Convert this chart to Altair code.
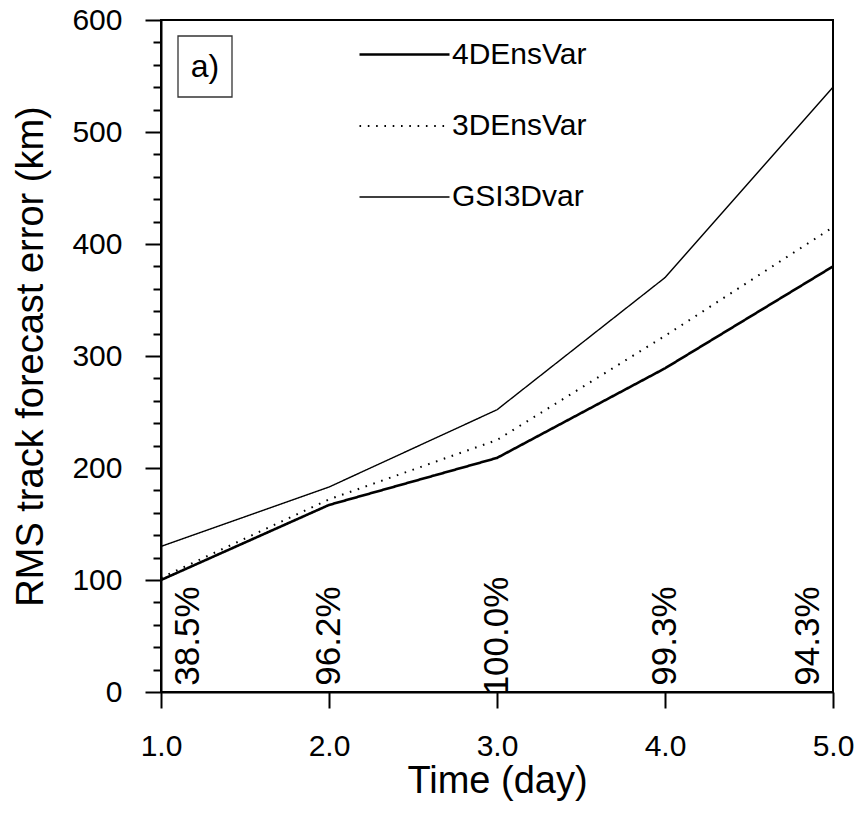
import altair as alt
import pandas as pd

# ---- data ----
days = [1, 2, 3, 4, 5]
series = ["4DEnsVar", "3DEnsVar", "GSI3Dvar"]
err_4denvar = [100, 167, 209, 289, 380]
err_3denvar = [102, 172, 225, 318, 415]
err_gsi3dvar = [130, 183, 252, 370, 540]
pct_labels = ["38.5%", "96.2%", "100.0%", "99.3%", "94.3%"]
pct_level = 50
x_ticks = [1, 2, 3, 4, 5]
y_ticks = list(range(0, 601, 20))
panel_label = ["a)"]

FONT = "Liberation Sans"
X_TITLE = "Time (day)"
Y_TITLE = "RMS track forecast error (km)"

rows = []
for name, vals in zip(series, [err_4denvar, err_3denvar, err_gsi3dvar]):
    for d, v in zip(days, vals):
        rows.append({"day": d, "err": v, "series": name})
df = pd.DataFrame(rows)
pct_df = pd.DataFrame({"day": days, "label": pct_labels})
panel_df = pd.DataFrame({"t": panel_label})

x_axis = alt.Axis(
    values=x_ticks, format=".1f", title=X_TITLE, tickSize=16,
    labelPadding=23, labelFlush=False, labelOverlap=False,
    titleBaseline="alphabetic", titleY=100,
)
y_axis = alt.Axis(
    values=y_ticks, title=Y_TITLE,
    labelExpr="datum.value % 100 === 0 ? datum.label : ''",
    tickSize={"condition": {"test": "datum.value % 100 === 0", "value": 16}, "value": 8},
    labelPadding=23, labelFlush=False, labelOverlap=False,
    titleBaseline="alphabetic", titleX=-119,
)

legend = alt.Legend(
    orient="none", legendX=227, legendY=18, title=None,
    symbolType="M-3,0H3", symbolSize=900, symbolStrokeColor="black",
    labelOffset=31, rowPadding=40, labelFontSize=30, labelFont=FONT,
    labelColor="black", padding=0, labelLimit=0,
)

lines = alt.Chart(df).mark_line(color="black").encode(
    x=alt.X("day:Q", scale=alt.Scale(domain=[1, 5], nice=False, zero=False), axis=x_axis),
    y=alt.Y("err:Q", scale=alt.Scale(domain=[0, 600], nice=False), axis=y_axis),
    strokeDash=alt.StrokeDash(
        "series:O", sort=series,
        scale=alt.Scale(domain=series, range=[[1, 0], [1.6, 6.7], [1, 0]]),
        legend=legend,
    ),
    strokeWidth=alt.StrokeWidth(
        "series:O", sort=series,
        scale=alt.Scale(domain=series, range=[2.6, 1.4, 1.2]),
        legend=legend,
    ),
)

def pct_layer(flt, dy):
    return alt.Chart(pct_df).mark_text(
        angle=270, align="center", baseline="middle", fontSize=35,
        font=FONT, color="black", dy=dy,
    ).encode(
        x=alt.X("day:Q", axis=x_axis),
        y=alt.Y(datum=pct_level, type="quantitative", axis=y_axis),
        text="label:N",
    ).transform_filter(flt)

pct_first = pct_layer("datum.day == 1", 27)
pct_mid = pct_layer("datum.day > 1 && datum.day < 5", 0)
pct_last = pct_layer("datum.day == 5", -25)

box = alt.Chart(panel_df).mark_rect(
    fill="white", stroke="#333333", strokeWidth=1.3
).encode(
    x=alt.value(17), x2=alt.value(71), y=alt.value(16), y2=alt.value(77)
)
box_text = alt.Chart(panel_df).mark_text(
    fontSize=32, font=FONT, color="black", align="center", baseline="middle"
).encode(
    x=alt.value(44), y=alt.value(47), text="t:N"
)

chart = alt.layer(lines, pct_first, pct_mid, pct_last, box, box_text).properties(
    width=672, height=672,
    autosize=alt.AutoSizeParams(type="none"),
    padding={"left": 161, "top": 20, "right": 24, "bottom": 123},
).configure_view(
    stroke="black", strokeWidth=2
).configure_axis(
    grid=False, domainColor="black", domainWidth=2, tickColor="black", tickWidth=2,
    labelFont=FONT, labelFontSize=30, labelColor="black", labelOverlap=False,
    titleFont=FONT, titleFontSize=38, titleFontWeight="normal", titleColor="black",
)

chart.save("out.html", embed_options={"renderer": "svg", "actions": False})
